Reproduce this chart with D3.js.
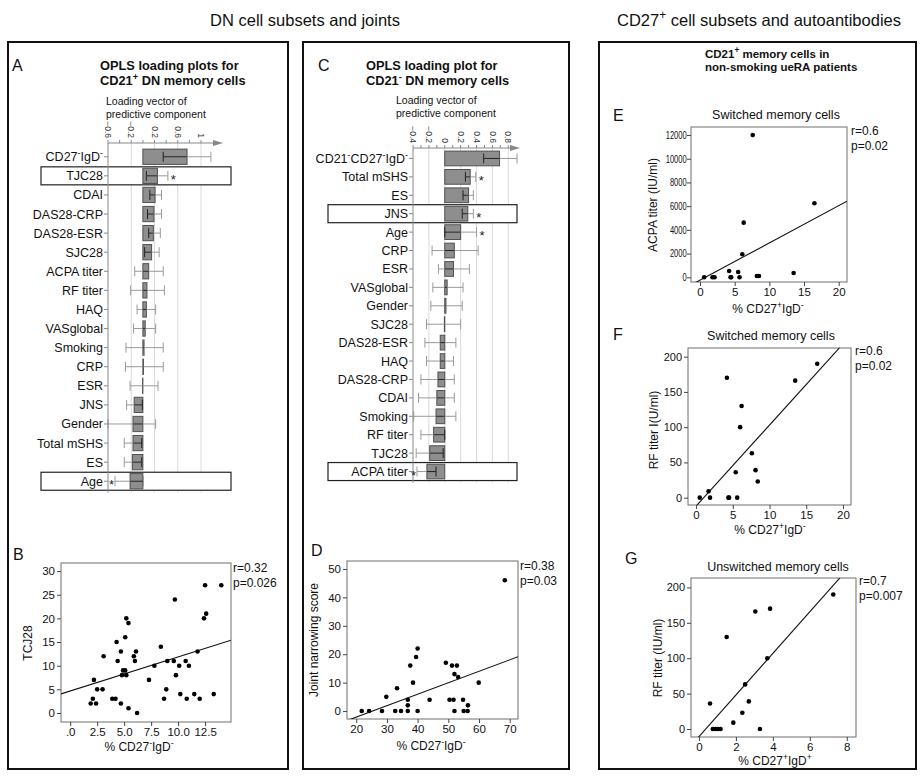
<!DOCTYPE html>
<html>
<head>
<meta charset="utf-8">
<script src="https://cdn.jsdelivr.net/npm/d3@7"></script>
<style>
  body { margin: 0; background: #fff; }
  svg { font-family: Arial, "Liberation Sans", Helvetica, sans-serif; }
</style>
</head>
<body>
<div id="chart"></div>
<script>
// ---- panel A: OPLS loadings, CD21+ DN memory cells
const varsA = ["CD27⁻IgD⁻", "TJC28", "CDAI", "DAS28-CRP", "DAS28-ESR", "SJC28", "ACPA titer", "RF titer", "HAQ",
  "VASglobal", "Smoking", "CRP", "ESR", "JNS", "Gender", "Total mSHS", "ES", "Age"]
const loadA = [0.76, 0.25, 0.21, 0.19, 0.18, 0.15, 0.10, 0.07, 0.06, 0.04, 0.02, 0.01, -0.005, -0.15, -0.17, -0.17, -0.18, -0.22]
const lowA = [0.35, 0.06, 0.12, 0.08, 0.10, 0.03, -0.14, -0.21, -0.10, -0.16, -0.29, -0.30, -0.22, -0.28, -0.60, -0.32, -0.32, -0.48]
const highA = [1.17, 0.43, 0.32, 0.32, 0.30, 0.28, 0.35, 0.37, 0.22, 0.22, 0.35, 0.35, 0.26, -0.01, 0.22, -0.02, -0.02, 0.01]
const sigA = ["TJC28", "Age"]
const ticksA = [-0.6, -0.4, -0.2, 0, 0.2, 0.4, 0.6, 0.8, 1]
const tickLabelsA = [-0.6, -0.2, 0.2, 0.6, 1]

// ---- panel C: OPLS loadings, CD21- DN memory cells
const varsC = ["CD21⁻CD27⁻IgD⁻", "Total mSHS", "ES", "JNS", "Age", "CRP", "ESR", "VASglobal", "Gender", "SJC28",
  "DAS28-ESR", "HAQ", "DAS28-CRP", "CDAI", "Smoking", "RF titer", "TJC28", "ACPA titer"]
const loadC = [0.69, 0.32, 0.30, 0.29, 0.20, 0.12, 0.11, 0.03, 0.015, -0.005, -0.057, -0.057, -0.086, -0.10, -0.11, -0.14, -0.19, -0.225]
const lowC = [0.49, 0.26, 0.23, 0.22, 0.0, -0.16, -0.08, -0.15, -0.175, -0.23, -0.25, -0.23, -0.30, -0.33, -0.39, -0.30, -0.36, -0.35]
const highC = [0.91, 0.39, 0.36, 0.36, 0.40, 0.42, 0.31, 0.23, 0.22, 0.20, 0.14, 0.11, 0.12, 0.12, 0.14, 0.0, -0.02, -0.11]
const sigC = ["Total mSHS", "JNS", "Age", "ACPA titer"]
const boxedC = ["JNS", "ACPA titer"]
const ticksC = [-0.4, -0.3, -0.2, -0.1, 0, 0.1, 0.2, 0.3, 0.4, 0.5, 0.6, 0.7, 0.8]
const tickLabelsC = [-0.4, -0.2, 0, 0.2, 0.4, 0.6, 0.8]

// ---- panel B: TJC28 vs % CD27-IgD-
const bX = [1.9, 2.1, 2.2, 2.4, 2.5, 3.0, 3.1, 3.9, 4.2, 4.3, 4.4, 4.7, 4.7, 4.8, 4.9, 5.1, 5.1, 5.2, 5.2, 5.4, 5.4, 5.9, 6.0, 6.1, 6.2,
  7.3, 7.8, 8.4, 8.7, 8.9, 9.0, 9.6, 9.7, 9.8, 10.1, 10.2, 10.7, 10.8, 11.0, 11.5, 11.8, 12.0, 12.4, 12.5, 12.6, 13.3, 14.0]
const bY = [2, 3, 7, 2, 5, 5, 12, 3, 3, 15, 11, 2, 13, 8, 9, 9, 16, 20, 8, 19, 1, 12, 11, 13, 0,
  7, 10, 14, 3, 5, 11, 11, 24, 8, 10, 4, 11, 3, 10, 4, 13, 3, 20, 27, 21, 4, 27]
const fitB = [4.65, 0.72]

// ---- panel D: joint narrowing score vs % CD27-IgD-
const dX = [21.8, 24.2, 28.4, 29.8, 32.7, 33.3, 34.6, 36.8, 36.8, 36.8, 37.6, 38.5, 39.5, 40.0, 40.0, 43.9, 49.2, 50.4, 51.2, 51.7,
  52.0, 52.0, 52.8, 53.2, 54.8, 55.0, 56.3, 56.4, 59.9, 68.4]
const dY = [0, 0, 0, 5, 0, 8, 0, 4, 2, 0, 16, 10, 19, 22, 0, 4, 17, 4, 16, 4, 0, 13, 16, 12, 4, 0, 0, 2, 10, 46]
const fitD = [-10.2, 0.403]

// ---- panels E, F, G: non-smoking ueRA patients
const eX = [0.6, 1.8, 2.1, 4.2, 4.4, 4.5, 5.5, 5.7, 6.1, 6.3, 7.6, 8.2, 8.5, 13.5, 16.5]
const eY = [0, 0, 0, 530, 0, 0, 450, 0, 1940, 4610, 12000, 110, 110, 365, 6240]
const fitE = [-240, 314]

const fX = [0.5, 1.7, 1.9, 4.2, 4.4, 4.5, 5.4, 5.6, 6.0, 6.2, 7.6, 8.1, 8.4, 13.5, 16.5]
const fY = [0, 9, 0, 170, 0, 0, 36, 0, 100, 130, 63, 39, 23, 166, 190]
const fitF = [-12, 11.5]

const gX = [0.6, 0.75, 0.9, 1.03, 1.17, 1.5, 1.86, 2.35, 2.5, 2.7, 3.05, 3.3, 3.7, 3.85, 7.27]
const gY = [36, 0, 0, 0, 0, 130, 9, 23, 63, 39, 166, 0, 100, 170, 190]
const fitG = [-10.8, 29.4]

const svg = d3.select("#chart")
  .append("svg")
  .attr("width", 924)
  .attr("height", 776)

// superscript + / - written as raised small text
function rich(sel, str, fs) {
  sel.text(null)
  let up = false
  str.split(/([⁺⁻])/).forEach(p => {
    if (!p) return
    if (p === "⁺" || p === "⁻") {
      sel.append("tspan").attr("dy", up ? 0 : -fs * 0.4).attr("font-size", fs * 0.72).text(p === "⁺" ? "+" : "-")
      up = true
    } else {
      sel.append("tspan").attr("dy", up ? fs * 0.4 : 0).text(p)
      up = false
    }
  })
}

function txt(x, y, str, fs, opts = {}) {
  const t = svg.append("text")
    .attr("x", x).attr("y", y)
    .attr("font-size", fs)
    .attr("fill", "#111")
    .attr("text-anchor", opts.anchor || "start")
    .attr("font-weight", opts.bold ? "bold" : null)
  if (opts.rotate) t.attr("transform", `rotate(${opts.rotate},${x},${y})`)
  rich(t, str, fs)
  return t
}

// outer panel boxes
const boxes = [[8, 42, 280, 727], [303, 42, 266, 727], [599, 42, 317, 727]]
svg.selectAll(".outer").data(boxes).enter().append("rect")
  .attr("x", d => d[0]).attr("y", d => d[1]).attr("width", d => d[2]).attr("height", d => d[3])
  .attr("fill", "none").attr("stroke", "#111").attr("stroke-width", 2)

txt(305, 26, "DN cell subsets and joints", 16.5, { anchor: "middle" })
txt(759, 26, "CD27⁺ cell subsets and autoantibodies", 16.5, { anchor: "middle" })

function loadingPanel(o) {
  const x = d3.scaleLinear().domain(o.xDom).range(o.xRange)
  const y = d3.scaleBand().domain(o.vars).range(o.yRange).padding(0.2)
  const g = svg.append("g")
  const x0 = o.xRange[0], top = o.axisY, bottom = o.yRange[1]
  const bw = y.bandwidth()
  const rows = o.vars.map((v, i) => ({ v, val: o.vals[i], lo: o.lo[i], hi: o.hi[i] }))

  g.selectAll(".grid").data(o.grid).enter().append("line")
    .attr("x1", d => x(d)).attr("x2", d => x(d))
    .attr("y1", top).attr("y2", bottom)
    .attr("stroke", "#dadada")

  g.selectAll(".hl").data(o.boxed).enter().append("rect")
    .attr("x", o.boxX[0]).attr("width", o.boxX[1] - o.boxX[0])
    .attr("y", d => y(d) + bw / 2 - 9).attr("height", 18)
    .attr("fill", "#fff").attr("stroke", "#222").attr("stroke-width", 1.2)

  g.selectAll(".bar").data(rows).enter().append("rect")
    .attr("x", d => x(Math.min(0, d.val)))
    .attr("width", d => Math.abs(x(d.val) - x(0)))
    .attr("y", d => y(d.v)).attr("height", bw)
    .attr("fill", "#8e8e8e").attr("stroke", "#505050")

  // error bars: grey overall, dark where they lie on the bar
  const inBar = (d, v) => v >= Math.min(0, d.val) && v <= Math.max(0, d.val)
  g.selectAll(".err").data(rows).enter().append("line")
    .attr("x1", d => x(d.lo)).attr("x2", d => x(d.hi))
    .attr("y1", d => y(d.v) + bw / 2).attr("y2", d => y(d.v) + bw / 2)
    .attr("stroke", "#9a9a9a")
  g.selectAll(".errDark").data(rows.filter(d => Math.min(d.hi, Math.max(0, d.val)) > Math.max(d.lo, Math.min(0, d.val))))
    .enter().append("line")
    .attr("x1", d => x(Math.max(d.lo, Math.min(0, d.val))))
    .attr("x2", d => x(Math.min(d.hi, Math.max(0, d.val))))
    .attr("y1", d => y(d.v) + bw / 2).attr("y2", d => y(d.v) + bw / 2)
    .attr("stroke", "#222")
  const caps = rows.flatMap(d => [{ d, v: d.lo }, { d, v: d.hi }])
  g.selectAll(".cap").data(caps).enter().append("line")
    .attr("x1", c => x(c.v)).attr("x2", c => x(c.v))
    .attr("y1", c => y(c.d.v) + bw / 2 - 5).attr("y2", c => y(c.d.v) + bw / 2 + 5)
    .attr("stroke", c => inBar(c.d, c.v) ? "#222" : "#9a9a9a")

  // row axis
  g.append("line").attr("x1", x0).attr("x2", x0).attr("y1", top).attr("y2", bottom).attr("stroke", "#888")
  g.selectAll(".rtick").data(o.vars).enter().append("line")
    .attr("x1", x0 - 4).attr("x2", x0)
    .attr("y1", d => y(d) + bw / 2).attr("y2", d => y(d) + bw / 2)
    .attr("stroke", "#888")
  g.selectAll(".rlab").data(o.vars).enter().append("text")
    .attr("x", x0 - 5).attr("y", d => y(d) + bw / 2 + 4.5)
    .attr("text-anchor", "end").attr("font-size", 12.5).attr("fill", "#111")
    .each(function (d) { rich(d3.select(this), d, 12.5) })

  // top value axis with arrow
  g.append("line").attr("x1", x0).attr("x2", o.arrowX - 8).attr("y1", top).attr("y2", top).attr("stroke", "#888")
  g.append("path")
    .attr("d", `M${o.arrowX},${top}L${o.arrowX - 10},${top - 3}L${o.arrowX - 10},${top + 3}Z`)
    .attr("fill", "#888")
  g.selectAll(".ttick").data(o.ticks).enter().append("line")
    .attr("x1", d => x(d)).attr("x2", d => x(d))
    .attr("y1", top - 3).attr("y2", top)
    .attr("stroke", "#888")
  g.selectAll(".tlab").data(o.tickLabels).enter().append("text")
    .attr("transform", d => `translate(${x(d)},${top - 5}) rotate(90)`)
    .attr("text-anchor", "end").attr("dy", "0.33em")
    .attr("font-size", 8.5).attr("fill", "#333")
    .text(d => d3.format("")(d))

  // significance asterisks
  g.selectAll(".sig").data(rows.filter(d => o.sig.includes(d.v))).enter().append("text")
    .attr("x", d => d.val >= 0 ? x(d.hi) + 3 : x(d.lo) - 1)
    .attr("y", d => y(d.v) + bw / 2 + 8)
    .attr("text-anchor", d => d.val >= 0 ? "start" : "end")
    .attr("font-size", 13).attr("fill", "#222")
    .text("*")
}

loadingPanel({
  vars: varsA, vals: loadA, lo: lowA, hi: highA, sig: sigA, boxed: sigA,
  xDom: [-0.6, 1], xRange: [108, 201], yRange: [145.3, 492.7], axisY: 143, arrowX: 223,
  ticks: ticksA, tickLabels: tickLabelsA, grid: [-0.2, 0.2, 0.6, 1], boxX: [41, 231]
})
loadingPanel({
  vars: varsC, vals: loadC, lo: lowC, hi: highC, sig: sigC, boxed: boxedC,
  xDom: [-0.4, 0.8], xRange: [413, 508.3], yRange: [147.4, 482.6], axisY: 148, arrowX: 520,
  ticks: ticksC, tickLabels: tickLabelsC, grid: [-0.2, 0, 0.2, 0.4, 0.6, 0.8], boxX: [328, 517]
})

// panel titles for loading plots
txt(12, 71, "A", 16)
txt(100, 70, "OPLS loading plots for", 12.8, { bold: true })
txt(100, 85, "CD21⁺ DN memory cells", 12.8, { bold: true })
txt(106, 105, "Loading vector of", 10.5)
txt(106, 118, "predictive component", 10.5)

txt(318, 71, "C", 16)
txt(366, 70, "OPLS loading plot for", 12.8, { bold: true })
txt(366, 85, "CD21⁻ DN memory cells", 12.8, { bold: true })
txt(396, 104, "Loading vector of", 10.5)
txt(396, 117, "predictive component", 10.5)

txt(705, 58, "CD21⁺ memory cells in", 11.5, { bold: true })
txt(705, 71, "non-smoking ueRA patients", 11.5, { bold: true })

function scatterPanel(o) {
  const x = d3.scaleLinear().domain(o.xDom).range([o.fx, o.fx + o.fw])
  const y = d3.scaleLinear().domain(o.yDom).range([o.fy + o.fh, o.fy])
  const g = svg.append("g")
  g.append("clipPath").attr("id", "clip" + o.id)
    .append("rect").attr("x", o.fx).attr("y", o.fy).attr("width", o.fw).attr("height", o.fh)

  g.append("rect").attr("x", o.fx).attr("y", o.fy).attr("width", o.fw).attr("height", o.fh)
    .attr("fill", "none").attr("stroke", "#6e6e6e")

  const yAxis = g.append("g").attr("transform", `translate(${o.fx},0)`)
    .call(d3.axisLeft(y).tickValues(o.yTicks).tickSize(4).tickPadding(2).tickFormat(o.yFmt || d3.format("d")))
  const xAxis = g.append("g").attr("transform", `translate(0,${o.fy + o.fh})`)
    .call(d3.axisBottom(x).tickValues(o.xTicks).tickSize(4).tickPadding(2).tickFormat(o.xFmt || d3.format("d")))
  for (const a of [yAxis, xAxis]) {
    a.attr("font-family", null).attr("font-size", 11.5)
    a.select(".domain").remove()
    a.selectAll("line").attr("stroke", "#444")
    a.selectAll("text").attr("fill", "#111")
  }
  if (o.yTickFs) yAxis.selectAll("text").attr("font-size", o.yTickFs)
  // condensed tick labels (long numbers)
  if (o.yTickSx) yAxis.selectAll("text").attr("transform", `scale(${o.yTickSx},1)`)

  const x1 = o.xDom[0], x2 = o.xDom[1]
  g.append("line").attr("clip-path", `url(#clip${o.id})`)
    .attr("x1", x(x1)).attr("y1", y(o.fit[0] + o.fit[1] * x1))
    .attr("x2", x(x2)).attr("y2", y(o.fit[0] + o.fit[1] * x2))
    .attr("stroke", "#111").attr("stroke-width", 1.1)

  g.selectAll(".dot").data(o.xs.map((v, i) => [v, o.ys[i]])).enter().append("circle")
    .attr("cx", d => x(d[0])).attr("cy", d => y(d[1])).attr("r", 2.3)
    .attr("fill", "#000")

  txt(o.letter[1], o.letter[2], o.letter[0], 16)
  if (o.title) txt(o.title[1], o.title[2], o.title[0], 12.5, { anchor: "middle" })
  txt(o.stats[0], o.stats[1], o.stats[2], 12)
  txt(o.stats[0], o.stats[1] + 15, o.stats[3], 12)
  txt(o.yLab[1], o.yLab[2], o.yLab[0], 12, { anchor: "middle", rotate: -90 })
  txt(o.xLab[1], o.xLab[2], o.xLab[0], 12, { anchor: "middle" })
}

scatterPanel({
  id: "B", xs: bX, ys: bY, fit: fitB,
  fx: 61, fy: 563, fw: 170, fh: 159, xDom: [-0.85, 14.9], yDom: [-1.9, 31.7],
  xTicks: [0, 2.5, 5, 7.5, 10, 12.5], yTicks: [0, 5, 10, 15, 20, 25, 30],
  xFmt: d => d === 0 ? ".0" : d.toFixed(1),
  letter: ["B", 13, 560], stats: [233, 572, "r=0.32", "p=0.026"],
  yLab: ["TCJ28", 32, 643], xLab: ["% CD27⁻IgD⁻", 139, 751]
})
scatterPanel({
  id: "D", xs: dX, ys: dY, fit: fitD,
  fx: 347, fy: 561, fw: 171, fh: 158, xDom: [17, 72.7], yDom: [-2.8, 52.8],
  xTicks: [20, 30, 40, 50, 60, 70], yTicks: [0, 10, 20, 30, 40, 50],
  letter: ["D", 311, 556], stats: [520, 570, "r=0.38", "p=0.03"],
  yLab: ["Joint narrowing score", 318, 640], xLab: ["% CD27⁻IgD⁻", 431, 750]
})
scatterPanel({
  id: "E", xs: eX, ys: eY, fit: fitE,
  fx: 691, fy: 127, fw: 156, fh: 155, xDom: [-1.3, 21.2], yDom: [-396, 12675],
  xTicks: [0, 5, 10, 15, 20], yTicks: [0, 2000, 4000, 6000, 8000, 10000, 12000],
  yTickFs: 10.5, yTickSx: 0.72,
  letter: ["E", 613, 121], title: ["Switched memory cells", 776, 119],
  stats: [851, 135, "r=0.6", "p=0.02"],
  yLab: ["ACPA titer (IU/ml)", 657, 205], xLab: ["% CD27⁺IgD⁻", 768, 313]
})
scatterPanel({
  id: "F", xs: fX, ys: fY, fit: fitF,
  fx: 688, fy: 348, fw: 163, fh: 157, xDom: [-1.1, 21.1], yDom: [-10.4, 212.3],
  xTicks: [0, 5, 10, 15, 20], yTicks: [0, 50, 100, 150, 200],
  yTickFs: 11,
  letter: ["F", 613, 340], title: ["Switched memory cells", 771, 340],
  stats: [855, 355, "r=0.6", "p=0.02"],
  yLab: ["RF titer I(U/ml)", 658, 430], xLab: ["% CD27⁺IgD⁻", 770, 534]
})
scatterPanel({
  id: "G", xs: gX, ys: gY, fit: fitG,
  fx: 691, fy: 578, fw: 165, fh: 159, xDom: [-0.43, 8.5], yDom: [-11.3, 213.3],
  xTicks: [0, 2, 4, 6, 8], yTicks: [0, 50, 100, 150, 200],
  yTickFs: 11,
  letter: ["G", 625, 564], title: ["Unswitched memory cells", 778, 571],
  stats: [859, 585, "r=0.7", "p=0.007"],
  yLab: ["RF titer (IU/ml)", 662, 658], xLab: ["% CD27⁺IgD⁺", 775, 765]
})
</script>
</body>
</html>
